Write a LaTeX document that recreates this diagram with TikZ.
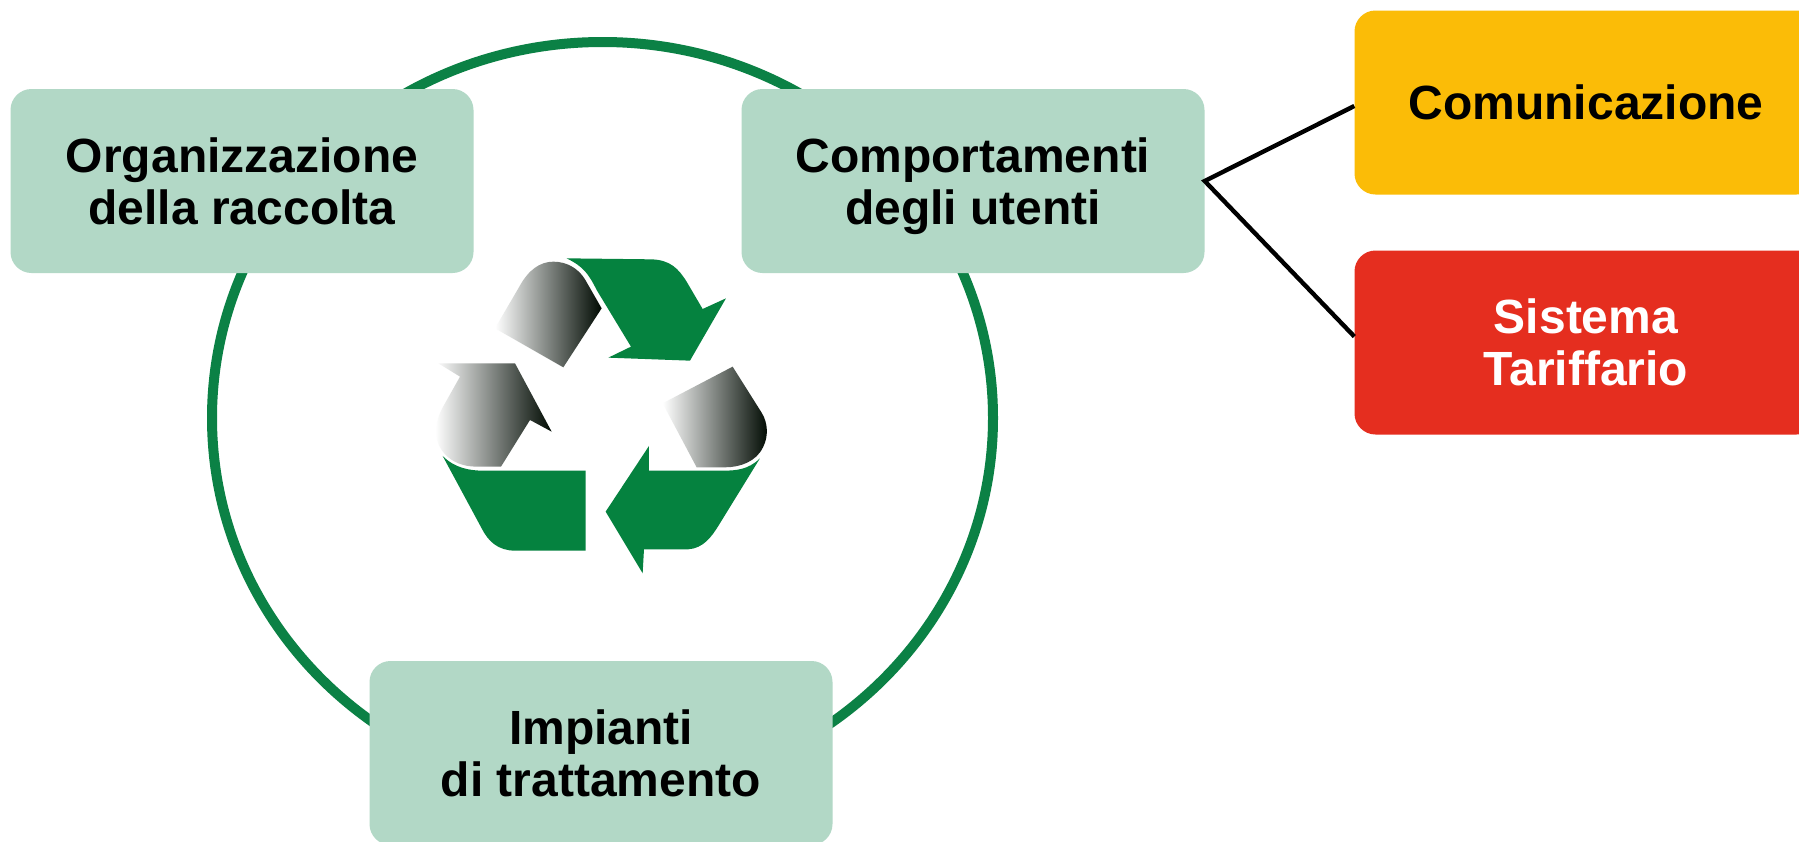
\documentclass[tikz,border=0pt]{standalone}
\usepackage{fontspec}
\setmainfont{Liberation Sans}
\usetikzlibrary{calc}
\definecolor{softgreen}{HTML}{B2D8C6}
\definecolor{ringgreen}{HTML}{0B8145}
\definecolor{arrowgreen}{HTML}{05823F}
\definecolor{amberbox}{HTML}{FBBC07}
\definecolor{redbox}{HTML}{E52E1F}
\definecolor{midshade}{HTML}{4F7358}
\definecolor{darkend}{HTML}{000A02}
\tikzset{
  card/.style={rounded corners=21pt,minimum width=463pt,minimum height=184pt,align=center,inner sep=0pt,
    text depth=0pt,font=\fontsize{48}{52}\selectfont\bfseries},
  softcard/.style={card,fill=softgreen,text=black},
  link/.style={draw=black,line width=4.4pt,line join=miter},
  flatarrow/.style={fill=arrowgreen,draw=none},
  fadearrow/.style={left color=white,middle color=midshade,right color=darkend,draw=none}
}
\begin{document}
\begin{tikzpicture}[x=1pt,y=-1pt]
\useasboundingbox (0,0) rectangle (1799,841);
\clip (0,0) rectangle (1799,841);
\fill[white] (0,0) rectangle (1799,841);
\draw[ringgreen,line width=10pt] (602.5,418) ellipse [x radius=390.5,y radius=376];
\node[softcard] (org) at (242,181) {Organizzazione\\della raccolta};
\node[softcard] (cmp) at (973,181) {Comportamenti\\degli utenti};
\node[softcard] (imp) at (601,753) {Impianti\\di trattamento};
\node[card,fill=amberbox,text=black] (com) at (1586,102.5) {Comunicazione};
\node[card,fill=redbox,text=white] (tar) at (1586,342.5) {Sistema\\Tariffario};
\draw[link] ([yshift=-3.5pt]com.west) -- (cmp.east) -- ([yshift=6pt]tar.west);
\begin{scope}[shift={(420,240)},x=0.3333pt,y=-0.3333pt]
\path[fadearrow] (225,265) -- (298,140) .. controls (325,90) and (360,65) .. (400,65)
  .. controls (440,65) and (475,85) .. (495,118) -- (545,205) -- (430,382) -- cycle;
\path[flatarrow] (440,55) -- (695,58) .. controls (750,60) and (775,85) .. (800,125)
  -- (848,207) -- (918,175) -- (810,362) -- (565,353) -- (633,320) -- (530,150)
  .. controls (505,100) and (490,80) .. (440,55) -- cycle;
\path[fadearrow] (55,370) -- (285,370) -- (395,575) -- (330,540) -- (243,680) -- (170,680)
  .. controls (85,680) and (45,620) .. (48,570) .. controls (50,540) and (60,515) .. (75,490) -- (120,410) -- cycle;
\path[flatarrow] (68,648) .. controls (105,685) and (150,692) .. (190,692) -- (497,692) -- (497,932) -- (285,932)
  .. controls (235,932) and (205,905) .. (185,865) -- cycle;
\path[flatarrow] (1020,655) .. controls (985,690) and (945,692) .. (910,692) -- (687,692) -- (687,618)
  -- (557,815) -- (668,1000) -- (672,928) -- (805,928) .. controls (850,925) and (875,890) .. (895,858) -- cycle;
\path[fadearrow] (938,380) -- (1025,518) .. controls (1045,550) and (1045,590) .. (1030,620)
  .. controls (1010,665) and (960,682) .. (915,682) -- (830,682) -- (728,490) -- cycle;
\end{scope}
\end{tikzpicture}
\end{document}
